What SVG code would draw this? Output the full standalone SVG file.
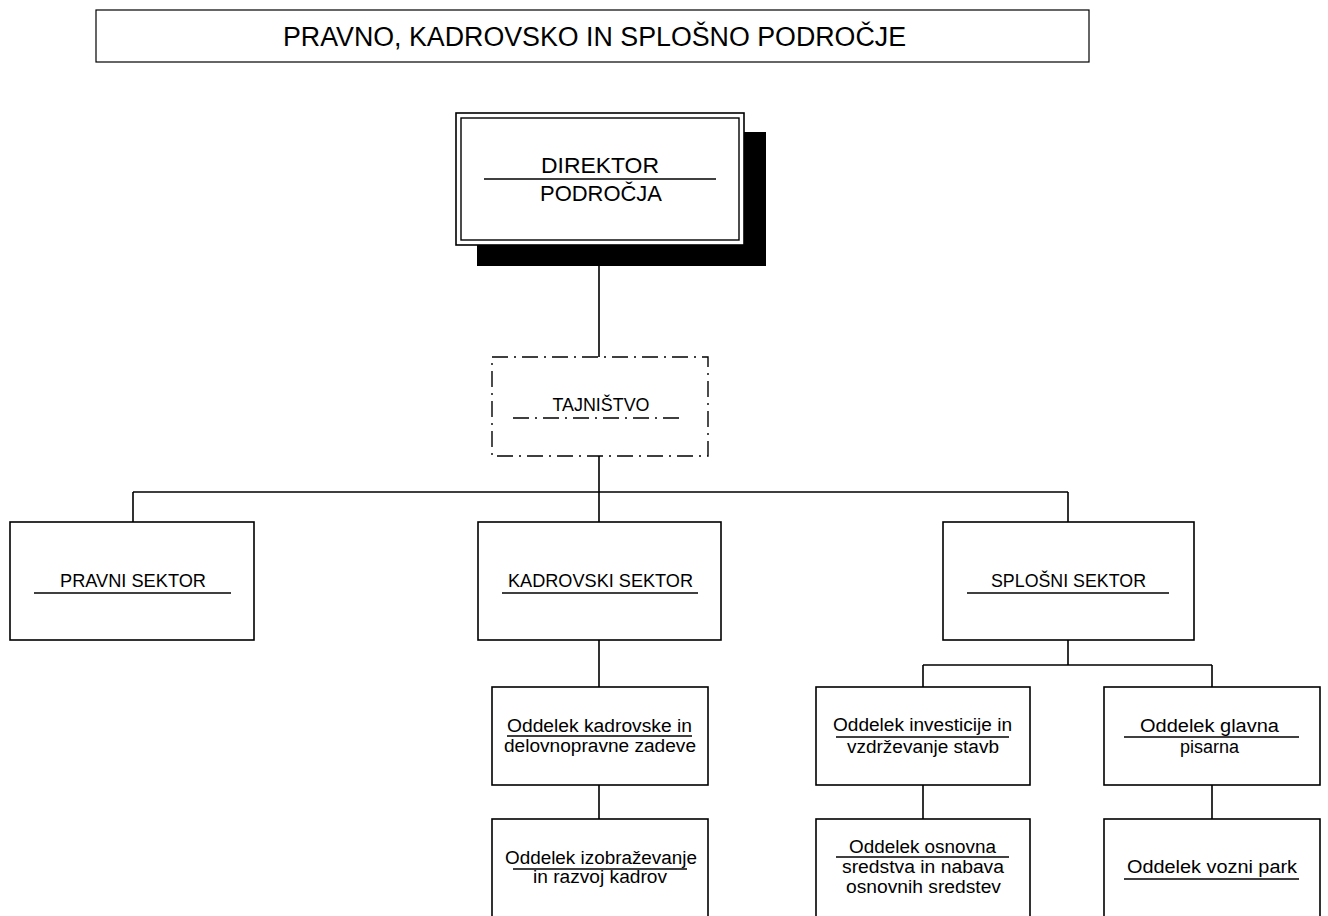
<svg xmlns="http://www.w3.org/2000/svg" width="1328" height="916" viewBox="0 0 1328 916">
<style>
.box{fill:#fff;stroke:#000;stroke-width:1.6}
.ln{fill:none;stroke:#000;stroke-width:1.6}
.ul{stroke:#000;stroke-width:1.4}
.dd{fill:none;stroke:#000;stroke-width:1.4;stroke-dasharray:16 6 2 6}
text{font-family:"Liberation Sans",Arial,sans-serif;fill:#000;text-anchor:middle}
.t1{font-size:27px}
.t2{font-size:22px}
.t3{font-size:19px}
.t4{font-size:18px}
</style>
<rect width="1328" height="916" fill="#fff"/>
<g id="title">
<rect x="96" y="10" width="993" height="52" fill="#fff" stroke="#000" stroke-width="1.2"/>
<text class="t1" x="594.5" y="46" textLength="623" lengthAdjust="spacingAndGlyphs">PRAVNO, KADROVSKO IN SPLOŠNO PODROČJE</text>
</g>
<g id="connectors">
<path class="ln" d="M599,245 V357 M599,456 V522 M133,492 H1068 M133,492 V522 M1068,492 V522 M599,640 V687 M599,785 V819 M1068,640 V665 M923,665 H1212 M923,665 V687 M1212,665 V687 M923,785 V819 M1212,785 V819"/>
</g>
<g id="director">
<rect x="477" y="132" width="289" height="134" fill="#000"/>
<rect class="box" x="456" y="113" width="288" height="132"/>
<rect x="461" y="118" width="278" height="122" fill="none" stroke="#000" stroke-width="1.4"/>
<text class="t2" x="600" y="173" textLength="118" lengthAdjust="spacingAndGlyphs">DIREKTOR</text>
<line class="ul" x1="484" y1="179" x2="716" y2="179"/>
<text class="t2" x="601" y="201" textLength="122" lengthAdjust="spacingAndGlyphs">PODROČJA</text>
</g>
<g id="tajnistvo">
<rect class="dd" x="492" y="357" width="216" height="99"/>
<text class="t4" x="601" y="411" textLength="97" lengthAdjust="spacingAndGlyphs">TAJNIŠTVO</text>
<line class="dd" x1="513" y1="418" x2="683" y2="418"/>
</g>
<g id="pravni">
<rect class="box" x="10" y="522" width="244" height="118"/>
<text class="t3" x="133" y="587" textLength="146" lengthAdjust="spacingAndGlyphs">PRAVNI SEKTOR</text>
<line class="ul" x1="34" y1="593" x2="231" y2="593"/>
</g>
<g id="kadrovski">
<rect class="box" x="478" y="522" width="243" height="118"/>
<text class="t3" x="600.5" y="587" textLength="185" lengthAdjust="spacingAndGlyphs">KADROVSKI SEKTOR</text>
<line class="ul" x1="502" y1="593" x2="698" y2="593"/>
</g>
<g id="splosni">
<rect class="box" x="943" y="522" width="251" height="118"/>
<text class="t3" x="1068.5" y="587" textLength="155" lengthAdjust="spacingAndGlyphs">SPLOŠNI SEKTOR</text>
<line class="ul" x1="967" y1="593" x2="1169" y2="593"/>
</g>
<g id="odd-kadrovske">
<rect class="box" x="492" y="687" width="216" height="98"/>
<text class="t4" x="599.5" y="732" textLength="185" lengthAdjust="spacingAndGlyphs">Oddelek kadrovske in</text>
<line class="ul" x1="507" y1="736" x2="692" y2="736"/>
<text class="t4" x="600" y="752" textLength="192" lengthAdjust="spacingAndGlyphs">delovnopravne zadeve</text>
</g>
<g id="odd-izobrazevanje">
<rect class="box" x="492" y="819" width="216" height="110"/>
<text class="t4" x="601" y="864" textLength="192" lengthAdjust="spacingAndGlyphs">Oddelek izobraževanje</text>
<line class="ul" x1="513" y1="869" x2="687" y2="869"/>
<text class="t4" x="600" y="883" textLength="134" lengthAdjust="spacingAndGlyphs">in razvoj kadrov</text>
</g>
<g id="odd-investicije">
<rect class="box" x="816" y="687" width="214" height="98"/>
<text class="t4" x="922.5" y="731" textLength="179" lengthAdjust="spacingAndGlyphs">Oddelek investicije in</text>
<line class="ul" x1="836" y1="737" x2="1009" y2="737"/>
<text class="t4" x="923" y="753" textLength="152" lengthAdjust="spacingAndGlyphs">vzdrževanje stavb</text>
</g>
<g id="odd-osnovna">
<rect class="box" x="816" y="819" width="214" height="110"/>
<text class="t4" x="922.5" y="853" textLength="147" lengthAdjust="spacingAndGlyphs">Oddelek osnovna</text>
<line class="ul" x1="836" y1="857" x2="1009" y2="857"/>
<text class="t4" x="923" y="873" textLength="162" lengthAdjust="spacingAndGlyphs">sredstva in nabava</text>
<text class="t4" x="923.5" y="893" textLength="155" lengthAdjust="spacingAndGlyphs">osnovnih sredstev</text>
</g>
<g id="odd-glavna">
<rect class="box" x="1104" y="687" width="216" height="98"/>
<text class="t4" x="1209.5" y="732" textLength="139" lengthAdjust="spacingAndGlyphs">Oddelek glavna</text>
<line class="ul" x1="1124" y1="737" x2="1299" y2="737"/>
<text class="t4" x="1209.5" y="753" textLength="59" lengthAdjust="spacingAndGlyphs">pisarna</text>
</g>
<g id="odd-vozni">
<rect class="box" x="1104" y="819" width="216" height="110"/>
<text class="t4" x="1212" y="873" textLength="170" lengthAdjust="spacingAndGlyphs">Oddelek vozni park</text>
<line class="ul" x1="1124" y1="879" x2="1299" y2="879"/>
</g>
</svg>
